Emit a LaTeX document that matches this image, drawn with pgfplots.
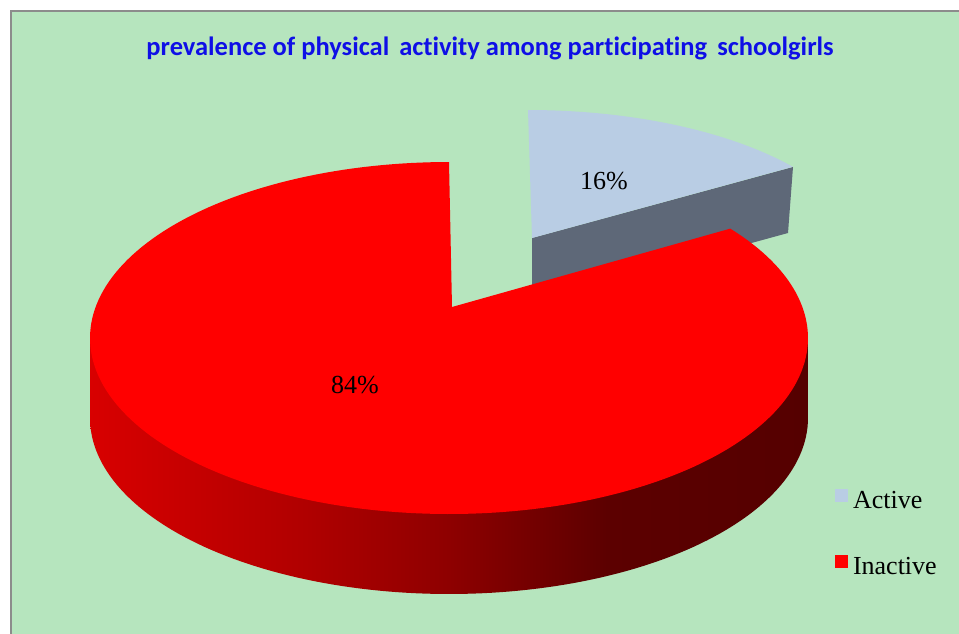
\documentclass[border=0pt]{standalone}
\usepackage{pgfplots}
\pgfplotsset{compat=1.18}
\usepackage{pgfplotstable}
\usepackage{fontspec}
\setmainfont{Liberation Serif}
\newfontfamily\titlefont[Ligatures={NoCommon}]{Carlito}

\definecolor{bggreen}{RGB}{182,229,190}
\definecolor{framegray}{RGB}{140,140,140}
\definecolor{activetop}{RGB}{185,205,228}
\definecolor{activeside}{RGB}{94,104,120}
\definecolor{inactivetop}{RGB}{255,0,0}
\definecolor{titleblue}{RGB}{15,15,230}
\definecolor{rs1}{RGB}{216,0,0}
\definecolor{rs2}{RGB}{176,0,0}
\definecolor{rs3}{RGB}{142,0,0}
\definecolor{rs4}{RGB}{92,0,0}
\definecolor{rs5}{RGB}{85,0,0}
\pgfdeclarehorizontalshading{redside}{100bp}{color(0bp)=(rs1); color(25bp)=(rs1); color(40bp)=(rs2); color(50bp)=(rs3); color(61bp)=(rs4); color(75bp)=(rs5); color(100bp)=(rs5)}

\pgfplotstableread{
cat val
Active 16
Inactive 84
}\piedata
\pgfplotstablegetelem{0}{val}\of\piedata \let\valA\pgfplotsretval
\pgfplotstablegetelem{1}{val}\of\piedata \let\valI\pgfplotsretval
% true angle of the boundary between the slices (clockwise from 12 o'clock)
\pgfmathsetmacro\thetaEnd{90-360*\valA/(\valA+\valI)}
% ellipse parameter after the tilt of the 3-D view
\pgfmathsetmacro\tEnd{atan2(sin(\thetaEnd),0.8*cos(\thetaEnd))}
\pgfmathsetmacro\tRedEnd{360+\tEnd}

\begin{document}
\begin{tikzpicture}
\begin{axis}[
  width=959pt, height=633pt, scale only axis,
  xmin=0, xmax=959, ymin=0, ymax=633, y dir=reverse,
  hide axis, clip=true,
  legend style={draw=none, fill=none, inner sep=0pt, outer sep=0pt,
    at={(axis cs:835,489)}, anchor=north west,
    font=\fontsize{26}{26}\selectfont,
    nodes={inner sep=0pt, text height=18pt, text depth=6pt},
    row sep=41pt,
    /tikz/every odd column/.append style={column sep=5pt}},
  legend cell align=left,
  legend image code/.code={\fill[#1] (0pt,0pt) rectangle (13pt,13pt);},
]
% background
\addplot[fill=white, draw=none, forget plot] coordinates {(0,0) (959,0) (959,633) (0,633)} -- cycle;
\addplot[fill=bggreen, draw=framegray, line width=2pt, forget plot] coordinates {(11,11) (990,11) (990,660) (11,660)} -- cycle;

% Active slice: side face then top face
\addplot[fill=activeside, draw=none, forget plot] coordinates {(532,238) (793,167) (788,233) (532,303)} -- cycle;
\addplot[fill=activetop, draw=none, domain=\tEnd:90, samples=80]
  ({528+338*cos(x)}, {260-150*sin(x)}) -- (axis cs:532,238) -- cycle;
\addlegendentry{Active}

% Inactive slice: front rim then top face
\addplot[shading=redside, draw=none, domain=180:360, samples=120, forget plot]
  ({449+359*cos(x)}, {418-176*sin(x)}) -- (axis cs:808,338) -- (axis cs:90,338) -- cycle;
\addplot[fill=inactivetop, draw=none, domain=90:\tRedEnd, samples=200]
  ({449+359*cos(x)}, {338-176*sin(x)}) -- (axis cs:452,307) -- cycle;
\addlegendentry{Inactive}

% data labels
\node[anchor=base, font=\fontsize{26}{26}\selectfont] at (axis cs:604,189) {\valA\%};
\node[anchor=base, font=\fontsize{26}{26}\selectfont] at (axis cs:355,393) {\valI\%};

% title
\node[anchor=base, text=titleblue, font=\titlefont\bfseries\fontsize{26.5}{26.5}\selectfont] at (axis cs:490,55.5)
  {prevalence of physical\hspace{4pt} activity among participating\hspace{4pt} schoolgirls};
\end{axis}
\end{tikzpicture}
\end{document}
